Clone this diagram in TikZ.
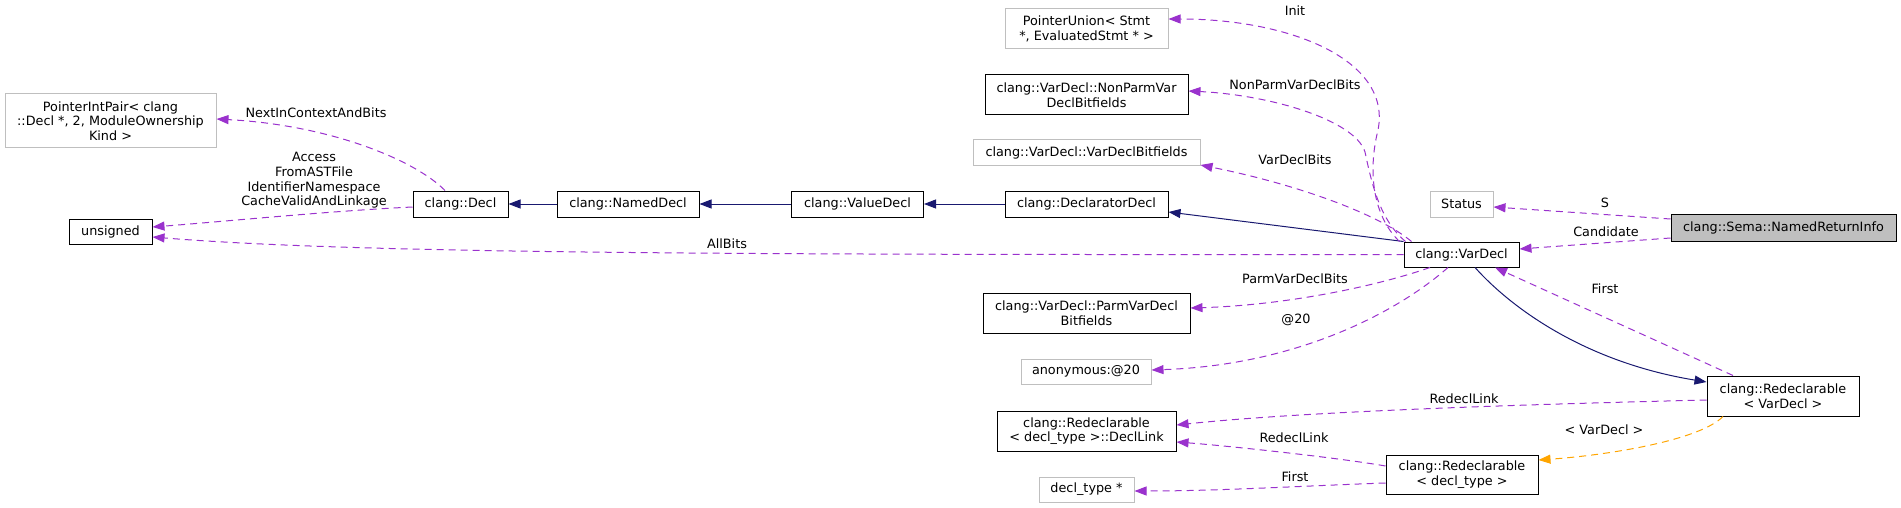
\documentclass[tikz,border=0pt]{standalone}
\usepackage{fontspec}
\setmainfont{DejaVu Sans}
\usetikzlibrary{arrows.meta}
\definecolor{orchid}{HTML}{9A32CD}
\definecolor{navyb}{HTML}{191970}
\definecolor{orng}{HTML}{FFA500}
\definecolor{boxgray}{HTML}{BFBFBF}
\newcommand{\nf}{\fontsize{12.8}{14.6}\selectfont}
\tikzset{
  box/.style={draw=black, line width=1pt, inner sep=0pt, align=center, font=\nf, fill=white},
  gbox/.style={box, draw=boxgray},
  uses/.style={draw=orchid, line width=1pt, dash pattern=on 7pt off 5pt, -{Triangle[length=12pt,width=9pt,fill=orchid]}},
  tmpl/.style={draw=orng, line width=1pt, dash pattern=on 7pt off 5pt, -{Triangle[length=12pt,width=9pt,fill=orng]}},
  inh/.style={draw=navyb, line width=1pt, -{Triangle[length=12pt,width=9pt,fill=navyb]}},
  elabel/.style={font=\nf, inner sep=0pt, align=center}
}
\begin{document}
\begin{tikzpicture}[x=1pt,y=-1pt]
\useasboundingbox (0,0) rectangle (1901,508);
% nodes
\node[gbox, minimum width=211pt, minimum height=54pt] (pip) at (110.5,121) {PointerIntPair< clang\\::Decl *, 2, ModuleOwnership\\Kind >};
\node[box, minimum width=83pt, minimum height=25pt] (uns) at (110.5,231.5) {unsigned};
\node[box, minimum width=95pt, minimum height=26pt] (decl) at (460.5,204) {clang::Decl};
\node[box, minimum width=142pt, minimum height=26pt] (named) at (628,204) {clang::NamedDecl};
\node[box, minimum width=132pt, minimum height=26pt] (value) at (857.5,204) {clang::ValueDecl};
\node[box, minimum width=163pt, minimum height=26pt] (declarator) at (1086.5,204) {clang::DeclaratorDecl};
\node[gbox, minimum width=163pt, minimum height=40pt] (punion) at (1086.5,29) {PointerUnion< Stmt\\ *, EvaluatedStmt * >};
\node[box, minimum width=203pt, minimum height=40pt] (nonparm) at (1086.5,95) {clang::VarDecl::NonParmVar\\DeclBitfields};
\node[gbox, minimum width=227pt, minimum height=26pt] (vdbf) at (1086.5,153) {clang::VarDecl::VarDeclBitfields};
\node[gbox, minimum width=63pt, minimum height=26pt] (status) at (1461.5,204) {Status};
\node[box, fill=boxgray, minimum width=225pt, minimum height=27pt] (nri) at (1783.5,227.5) {clang::Sema::NamedReturnInfo};
\node[box, minimum width=115pt, minimum height=25pt] (vardecl) at (1461.5,254.5) {clang::VarDecl};
\node[box, minimum width=207pt, minimum height=40pt] (parm) at (1086.5,313) {clang::VarDecl::ParmVarDecl\\Bitfields};
\node[gbox, minimum width=130pt, minimum height=25pt] (anon) at (1086,371.5) {anonymous:@20};
\node[box, minimum width=152pt, minimum height=40pt] (redVar) at (1783,396) {clang::Redeclarable\\< VarDecl >};
\node[box, minimum width=179pt, minimum height=40pt] (declLink) at (1086.5,431) {clang::Redeclarable\\< decl\_type >::DeclLink};
\node[gbox, minimum width=95pt, minimum height=25pt] (declType) at (1086.5,489.5) {decl\_type *};
\node[box, minimum width=152pt, minimum height=39pt] (redDT) at (1462,474.5) {clang::Redeclarable\\< decl\_type >};
% inheritance
\draw[inh] (named.west) -- (decl.east);
\draw[inh] (value.west) -- (named.east);
\draw[inh] (declarator.west) -- (value.east);
\draw[inh] (vardecl.north west) -- ([yshift=-8pt]declarator.east);
\draw[inh] ([xshift=13.5pt]vardecl.south) .. controls (1515,312) and (1590,363) .. ([yshift=14pt]redVar.west);
% uses
\draw[uses] ([xshift=-15.5pt]decl.north) .. controls (415,160) and (330,125) .. ([yshift=2pt]pip.east);
\draw[uses] ([yshift=-3pt]decl.west) .. controls (330,211) and (230,221) .. ([yshift=4.5pt]uns.east);
\draw[uses] (vardecl.west) .. controls (700,255) and (350,253) .. ([yshift=-5.5pt]uns.east);
\draw[uses] ([xshift=-4pt]vardecl.north west) .. controls (1372,215) and (1368,170) .. (1378,130) .. controls (1392,60) and (1290,19) .. ([yshift=10pt]punion.east);
\draw[uses] ([xshift=2pt]vardecl.north west) .. controls (1380,220) and (1372,185) .. (1365,152) .. controls (1355,120) and (1270,95) .. ([yshift=4pt]nonparm.east);
\draw[uses] ([xshift=8pt]vardecl.north west) .. controls (1380,215) and (1300,185) .. ([yshift=-12pt]vdbf.east);
\draw[uses] ([xshift=-31.5pt]vardecl.south) .. controls (1380,285) and (1290,305) .. ([yshift=5pt]parm.east);
\draw[uses] ([xshift=-13.5pt]vardecl.south) .. controls (1400,310) and (1300,365) .. ([yshift=1.5pt]anon.east);
\draw[uses] ([yshift=8.5pt]nri.west) -- ([yshift=-3pt]status.east);
\draw[uses] ([yshift=-10.5pt]nri.west) -- ([yshift=5.5pt]vardecl.east);
\draw[uses] ([xshift=-50pt]redVar.north) -- ([xshift=33.5pt]vardecl.south);
\draw[uses] ([yshift=-4pt]redVar.west) .. controls (1500,405) and (1300,412) .. ([yshift=6pt]declLink.east);
\draw[uses] ([yshift=8.5pt]redDT.west) .. controls (1340,458) and (1230,446) .. ([yshift=-11pt]declLink.east);
\draw[uses] ([yshift=-8.5pt]redDT.west) .. controls (1300,486) and (1220,491) .. ([yshift=-1.5pt]declType.east);
\draw[tmpl] ([xshift=-60pt]redVar.south) .. controls (1700,440) and (1610,455) .. ([yshift=14.5pt]redDT.east);
% edge labels
\node[elabel] (l1) at (316,113) {NextInContextAndBits};
\node[elabel] (l2) at (314,180.5) {Access\\FromASTFile\\IdentifierNamespace\\CacheValidAndLinkage};
\node[elabel] (l3) at (727,244) {AllBits};
\node[elabel] (l4) at (1295,11) {Init};
\node[elabel] (l5) at (1295,85) {NonParmVarDeclBits};
\node[elabel] (l6) at (1295,160) {VarDeclBits};
\node[elabel] (l7) at (1295,279) {ParmVarDeclBits};
\node[elabel] (l8) at (1296,320) {@20};
\node[elabel] (l9) at (1605,203) {S};
\node[elabel] (l10) at (1606,232) {Candidate};
\node[elabel] (l11) at (1605,289) {First};
\node[elabel] (l12) at (1464,399) {RedeclLink};
\node[elabel] (l13) at (1294,438) {RedeclLink};
\node[elabel] (l14) at (1295,477) {First};
\node[elabel] (l15) at (1604,430) {< VarDecl >};
\end{tikzpicture}
\end{document}
